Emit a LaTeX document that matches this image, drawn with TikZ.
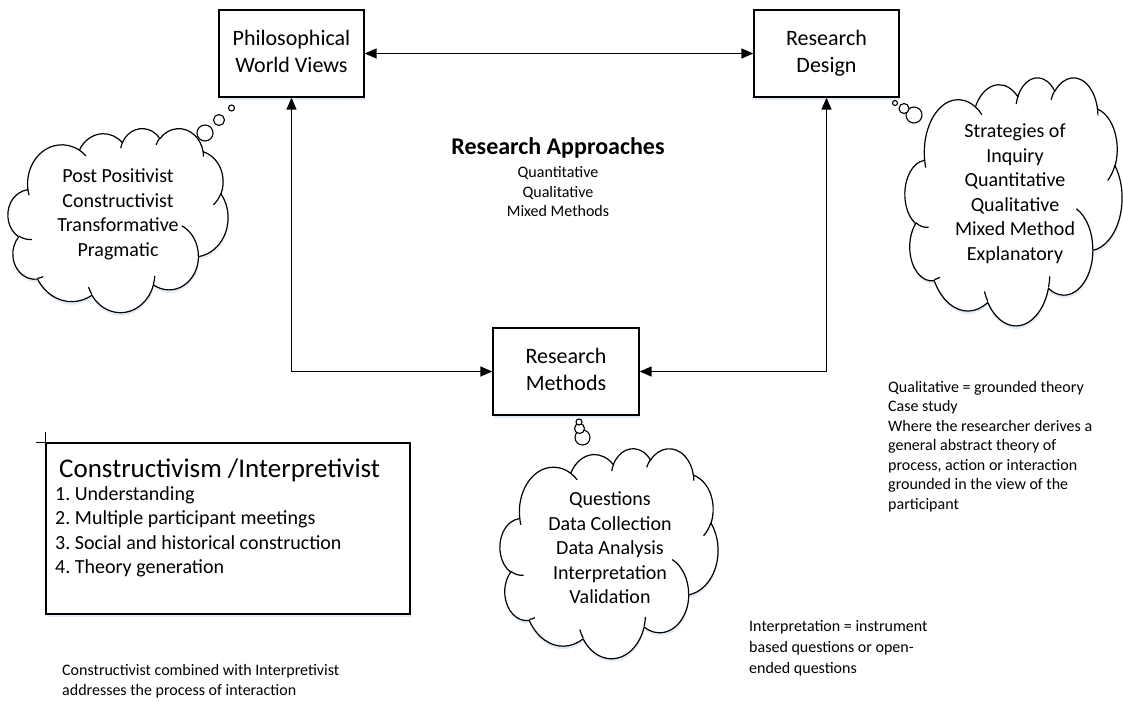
\documentclass[tikz,border=0pt]{standalone}
\usepackage{fontspec}
\setmainfont{Carlito}
\usetikzlibrary{arrows.meta,shadows}

% Cloud outline: elliptical arcs in a 432 x 432 box (y downwards),
% angles given geometrically and turned into parametric ones here.
\newcommand\defcloudarc[5]{%
  \pgfmathsetmacro\cloudtmpA{atan2((#2)*sin(#4),(#3)*cos(#4))}%
  \pgfmathsetmacro\cloudtmpB{atan2((#2)*sin((#4)+(#5)),(#3)*cos((#4)+(#5)))}%
  \pgfmathsetmacro\cloudtmpD{\cloudtmpB-\cloudtmpA}%
  \pgfmathsetmacro\cloudtmpD{((#5)>0)*(\cloudtmpD<0)*360-((#5)<0)*(\cloudtmpD>0)*360+\cloudtmpD}%
  \expandafter\global\expandafter\let\csname cloudS#1\endcsname\cloudtmpA
  \expandafter\global\expandafter\let\csname cloudD#1\endcsname\cloudtmpD
}
\newcommand\carc[1]{arc[start angle=\csname cloudS#1\endcsname, delta angle=\csname cloudD#1\endcsname, x radius=\csname cloudX#1\endcsname, y radius=\csname cloudY#1\endcsname]}
\newcommand\setcloudarc[5]{\defcloudarc{#1}{#2}{#3}{#4}{#5}%
  \expandafter\gdef\csname cloudX#1\endcsname{#2}%
  \expandafter\gdef\csname cloudY#1\endcsname{#3}}
% outer puffs
\setcloudarc{A}{67.53}{91.90}{-190.4875}{123.7805}
\setcloudarc{B}{53.33}{72.67}{-144.1024}{89.9452}
\setcloudarc{C}{43.65}{59.45}{-145.8079}{99.7230}
\setcloudarc{D}{48.57}{65.95}{-130.9861}{117.2417}
\setcloudarc{E}{53.33}{72.73}{-78.7089}{109.0269}
\setcloudarc{F}{67.75}{92.20}{-46.2673}{130.2690}
\setcloudarc{G}{57.85}{78.67}{0.6250}{114.0333}
\setcloudarc{H}{67.52}{92.15}{22.4516}{115.1726}
\setcloudarc{I}{77.20}{105.43}{66.2426}{75.7110}
\setcloudarc{J}{43.60}{59.18}{-274.9421}{146.7356}
\setcloudarc{K}{43.45}{59.45}{-246.8285}{152.5189}
% inner hooks
\setcloudarc{a}{43.45}{59.45}{86.7420}{26.4295}
\setcloudarc{b}{43.60}{59.18}{73.6105}{11.4475}
\setcloudarc{c}{67.52}{92.15}{137.6242}{14.0811}
\setcloudarc{d}{67.52}{92.15}{6.4533}{15.9984}
\setcloudarc{e}{57.85}{78.67}{-70.2924}{70.9174}
\setcloudarc{f}{53.33}{72.73}{30.3180}{27.7515}
\setcloudarc{g}{48.57}{65.95}{-13.7443}{14.8589}
\setcloudarc{h}{48.57}{65.95}{-149.1815}{18.1954}
\setcloudarc{i}{43.65}{59.45}{-163.4943}{17.6864}
\setcloudarc{j}{67.53}{91.90}{-66.7070}{12.3194}
\setcloudarc{k}{67.53}{91.90}{157.6544}{11.8582}

\newcommand\cloudfigure{%
  \draw[cloudline, fill=white, softshadow] (39,143.70) \carc{A} \carc{B} \carc{C} \carc{D} \carc{E}
    \carc{F} \carc{G} \carc{H} \carc{I} \carc{J} \carc{K} -- cycle;
  \draw[cloudline] (46.93,261.77) \carc{a}  (69.28,348.99) \carc{b}
    (164.78,390.90) \carc{c}  (288.27,347.51) \carc{d}  (341.29,229.54) \carc{e}
    (417.98,153.54) \carc{f}  (383.24,54.26) \carc{g}  (290.78,39.52) \carc{h}
    (221.41,47.20) \carc{i}  (140.00,51.92) \carc{j}  (41.27,157.89) \carc{k};
}

\begin{document}
\frenchspacing
\begin{tikzpicture}[x=1pt,y=-1pt,
  softshadow/.style={drop shadow={shadow xshift=0.5pt, shadow yshift=-3pt, fill=cyan!40!blue, opacity=0.12}},
  box/.style={draw, line width=1.3pt, fill=white, minimum width=145pt, minimum height=87pt,
    align=center, inner sep=0pt, font=\fontsize{22}{27}\selectfont, softshadow},
  cloudline/.style={line width=1.2pt, line join=round},
  cloudtext/.style={align=center, inner sep=0pt, font=\fontsize{20}{24.5}\selectfont},
  bubble/.style={circle, draw, line width=1.1pt, fill=white, inner sep=0pt},
  link/.style={line width=1.4pt, {Triangle[length=12pt,width=10pt]}-{Triangle[length=12pt,width=10pt]}},
  note/.style={inner sep=0pt, anchor=base west, font=\fontsize{16}{19.5}\selectfont},
  listline/.style={inner sep=0pt, anchor=base west, font=\fontsize{20}{24.5}\selectfont},
]
\useasboundingbox (0,0) rectangle (1123,702);

% main boxes
\node[box] (phil) at (291.5,53.5) {Philosophical\strut\\World Views\strut};
\node[box] (design) at (826.5,53.5) {Research\strut\\Design\strut};
\node[box, minimum width=146pt] (methods) at (566,371.5) {Research\strut\\Methods\strut};

% connectors
\draw[link] (phil) -- (design);
\draw[link] (phil.south) |- (methods.west);
\draw[link] (design.south) |- (methods.east);

% centre heading
\node[font=\bfseries\fontsize{24}{29}\selectfont, inner sep=0pt] (approach) at (558,147.5) {Research Approaches};
\node[cloudtext, font=\fontsize{16}{19.5}\selectfont] (approachlist) at (558,192) {Quantitative\\Qualitative\\Mixed Methods};

% world-view thought cloud
\begin{scope}[shift={(8,128)}, x=0.50926pt, y=-0.42593pt]
  \cloudfigure
\end{scope}
\node[cloudtext] (lefttext) at (118,214.5) {Post Positivist\\Constructivist\\Transformative\\Pragmatic};
\node[bubble, minimum size=16pt] (lb3) at (205,133) {};
\node[bubble, minimum size=11pt] (lb2) at (219,120) {};
\node[bubble, minimum size=6pt] (lb1) at (231.5,108) {};

% design thought cloud
\begin{scope}[shift={(905,77)}, x=0.50231pt, y=-0.57407pt]
  \cloudfigure
\end{scope}
\node[cloudtext] (righttext) at (1015,193.5) {Strategies of\\Inquiry\\Quantitative\\Qualitative\\Mixed Method\\Explanatory};
\node[bubble, minimum size=16pt] (rb3) at (914,115) {};
\node[bubble, minimum size=10pt] (rb2) at (904,108.5) {};
\node[bubble, minimum size=5pt] (rb1) at (895,103) {};

% methods thought cloud
\begin{scope}[shift={(500,448)}, x=0.50463pt, y=-0.48611pt]
  \cloudfigure
\end{scope}
\node[cloudtext] (bottomtext) at (610,548) {Questions\\Data Collection\\Data Analysis\\Interpretation\\Validation};
\node[bubble, minimum size=15pt] (bb3) at (582.5,437.5) {};
\node[bubble, minimum size=10pt] (bb2) at (579.5,428.5) {};
\node[bubble, minimum size=6pt] (bb1) at (579,422) {};

% constructivism panel
\node[draw, line width=1.3pt, fill=white, minimum width=364pt, minimum height=171pt, inner sep=0pt, softshadow] (cbox) at (228,528.5) {};
\draw[line width=1.3pt] (cbox.north west) -- ++(-9,0);
\draw[line width=1.3pt] (cbox.north west) -- ++(0,-10);
\node[inner sep=0pt, anchor=base west, font=\fontsize{27}{31}\selectfont] (ctitle) at (59,477) {Constructivism /Interpretivist};
\node[listline] (c1) at (55,500) {1. Understanding};
\node[listline] (c2) at (55,524.5) {2. Multiple participant meetings};
\node[listline] (c3) at (55,549) {3. Social and historical construction};
\node[listline] (c4) at (55,573.5) {4. Theory generation};

% side notes
\node[note] (bl1) at (62,675) {Constructivist combined with Interpretivist};
\node[note] (bl2) at (62,695) {addresses the process of interaction};

\foreach \t [count=\i] in {{Qualitative = grounded theory},{Case study},{Where the researcher derives a},{general abstract theory of},{process, action or interaction},{grounded in the view of the},{participant}}
  \node[note] (qual\i) at (888,{392+19.5*(\i-1)}) {\t};

\node[note] (interp1) at (749,631) {Interpretation = instrument};
\node[note] (interp2) at (749,652) {based questions or open-};
\node[note] (interp3) at (749,673) {ended questions};
\end{tikzpicture}
\end{document}
